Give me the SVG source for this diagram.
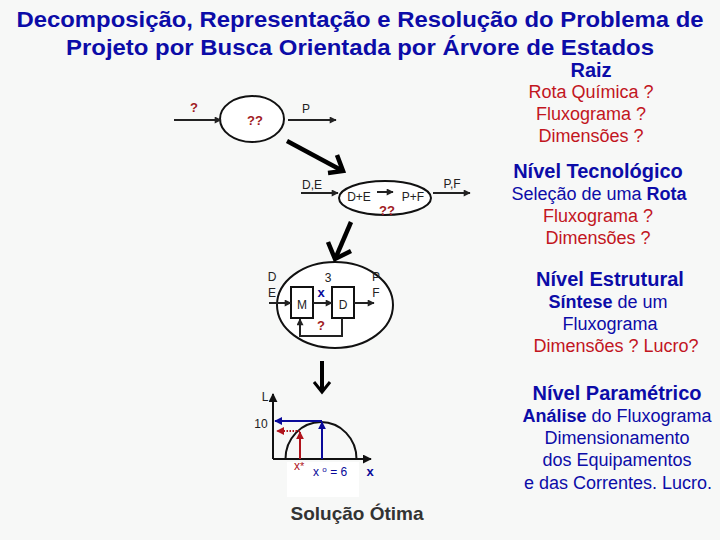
<svg xmlns="http://www.w3.org/2000/svg" width="720" height="540" viewBox="0 0 720 540">
<style>
text{font-family:"Liberation Sans",Arial,sans-serif}
.ttl{font-size:22px;font-weight:bold;fill:#0c0ca8}
.rb{font-size:20px;font-weight:bold;fill:#0c0ca8;text-anchor:middle}
.rr{font-size:18px;fill:#c2161e;text-anchor:middle}
.rbl{font-size:18px;fill:#0c0ca8;text-anchor:middle}
.sm{font-size:12px;fill:#222}
.q{font-size:13px;font-weight:bold;fill:#a01a22}
.ln{stroke:#222;stroke-width:2;fill:none}
.big{stroke:#000;stroke-width:4.5;fill:none;stroke-linecap:butt}
</style>
<defs>
<marker id="ah" viewBox="0 0 10 10" refX="9" refY="5" markerWidth="8" markerHeight="7" orient="auto" markerUnits="userSpaceOnUse"><path d="M0,0 L10,5 L0,10 z" fill="#222"/></marker>
<marker id="ahb" viewBox="0 0 10 10" refX="9" refY="5" markerWidth="8" markerHeight="8" orient="auto" markerUnits="userSpaceOnUse"><path d="M0,0 L10,5 L0,10 z" fill="#0a0a9a"/></marker>
<marker id="ahr" viewBox="0 0 10 10" refX="9" refY="5" markerWidth="8" markerHeight="8" orient="auto" markerUnits="userSpaceOnUse"><path d="M0,0 L10,5 L0,10 z" fill="#b0141c"/></marker>
<marker id="ahk" viewBox="0 0 10 10" refX="9" refY="5" markerWidth="9" markerHeight="9" orient="auto" markerUnits="userSpaceOnUse"><path d="M0,0 L10,5 L0,10 z" fill="#111"/></marker>
</defs>
<rect width="720" height="540" fill="#f7f8f7"/>
<rect x="287" y="462" width="72" height="35" fill="#ffffff"/>

<g id="title">
<text class="ttl" x="360" y="27" text-anchor="middle" textLength="687" lengthAdjust="spacingAndGlyphs">Decomposição, Representação e Resolução do Problema de</text>
<text class="ttl" x="360" y="55" text-anchor="middle" textLength="588" lengthAdjust="spacingAndGlyphs">Projeto por Busca Orientada por Árvore de Estados</text>
</g>

<g id="root-node">
<ellipse cx="252" cy="119" rx="32" ry="23" fill="#fff" stroke="#111" stroke-width="2"/>
<text class="q" x="255" y="125" text-anchor="middle">??</text>
<text class="q" x="194" y="112" text-anchor="middle">?</text>
<text class="sm" x="306" y="113" text-anchor="middle">P</text>
</g>

<g id="level1-node">
<ellipse cx="385" cy="198" rx="46" ry="17" fill="#fff" stroke="#111" stroke-width="2"/>
<text class="sm" x="359" y="201" text-anchor="middle">D+E</text>
<text class="sm" x="413" y="201" text-anchor="middle">P+F</text>
<text class="q" x="387" y="215" text-anchor="middle">??</text>
<text class="sm" x="312" y="189" text-anchor="middle">D,E</text>
<text class="sm" x="452" y="188" text-anchor="middle">P,F</text>
</g>

<g id="level2-node">
<ellipse cx="335" cy="305" rx="58" ry="43" fill="#fff" stroke="#111" stroke-width="2"/>
<rect x="291" y="287" width="22" height="31" fill="#fff" stroke="#111" stroke-width="2"/>
<rect x="332" y="287" width="22" height="31" fill="#fff" stroke="#111" stroke-width="2"/>
<text class="sm" x="302" y="309" text-anchor="middle">M</text>
<text class="sm" x="343" y="309" text-anchor="middle">D</text>
<text class="sm" x="328" y="282" text-anchor="middle">3</text>
<text class="sm" x="272" y="281" text-anchor="middle">D</text>
<text class="sm" x="272" y="297" text-anchor="middle">E</text>
<text class="sm" x="376" y="281" text-anchor="middle">P</text>
<text class="sm" x="376" y="297" text-anchor="middle">F</text>
<text x="321" y="297" text-anchor="middle" style="font-size:13px;font-weight:bold;fill:#0a0a9a">x</text>
<text class="q" x="321" y="330" text-anchor="middle">?</text>
</g>

<g id="graph">
<path d="M321,459 m-35.5,0 a35.5,37 0 0 1 71,0" fill="none" stroke="#111" stroke-width="2"/>
<text class="sm" x="265" y="401" text-anchor="middle">L</text>
<text class="sm" x="261" y="428" text-anchor="middle">10</text>
<text x="294" y="470" style="font-size:12px;fill:#b0141c">x<tspan font-size="11">*</tspan></text>
<text x="313" y="476" style="font-size:12px;fill:#0a0a9a">x <tspan dy="-4" font-size="8">o</tspan><tspan dy="4"> =  6</tspan></text>
<text x="370" y="476" text-anchor="middle" style="font-size:13px;font-weight:bold;fill:#0a0a9a">x</text>
</g>

<g id="solution">
<text x="357" y="520" text-anchor="middle" style="font-size:19px;font-weight:bold;fill:#333">Solução Ótima</text>
</g>

<g id="right-labels">
<text class="rb" x="591" y="77">Raiz</text>
<text class="rr" x="591" y="98">Rota Química ?</text>
<text class="rr" x="591" y="120">Fluxograma ?</text>
<text class="rr" x="591" y="142">Dimensões ?</text>
<text class="rb" x="598" y="178">Nível Tecnológico</text>
<text class="rbl" x="599" y="200">Seleção de uma <tspan font-weight="bold">Rota</tspan></text>
<text class="rr" x="598" y="222">Fluxograma ?</text>
<text class="rr" x="598" y="244">Dimensões ?</text>
<text class="rb" x="610" y="286">Nível Estrutural</text>
<text class="rbl" x="608" y="308"><tspan font-weight="bold">Síntese</tspan> de um</text>
<text class="rbl" x="610" y="330">Fluxograma</text>
<text class="rr" x="616" y="352">Dimensões ? Lucro?</text>
<text class="rb" x="617" y="400">Nível Paramétrico</text>
<text class="rbl" x="617" y="422"><tspan font-weight="bold">Análise</tspan> do Fluxograma</text>
<text class="rbl" x="617" y="444">Dimensionamento</text>
<text class="rbl" x="617" y="466">dos Equipamentos</text>
<text class="rbl" x="618" y="489">e das Correntes. Lucro.</text>
</g>

<g id="connectors">
<line class="ln" x1="174" y1="120" x2="221" y2="120" marker-end="url(#ah)"/>
<line class="ln" x1="288" y1="120" x2="336" y2="120" marker-end="url(#ah)"/>
<line class="big" x1="287" y1="141" x2="341" y2="170"/>
<polyline class="big" points="337,155 343,171 328,173"/>
<line class="ln" x1="301" y1="193" x2="338" y2="193" marker-end="url(#ah)"/>
<line class="ln" x1="377" y1="192" x2="393" y2="192" marker-end="url(#ah)"/>
<line class="ln" x1="433" y1="193" x2="470" y2="193" marker-end="url(#ah)"/>
<line class="big" x1="351" y1="222" x2="336" y2="257"/>
<polyline class="big" points="328,242 335,259 351,251"/>
<line class="ln" x1="269" y1="303" x2="291" y2="303" marker-end="url(#ah)"/>
<line class="ln" x1="313" y1="303" x2="332" y2="303" marker-end="url(#ah)"/>
<line class="ln" x1="354" y1="303" x2="374" y2="303" marker-end="url(#ah)"/>
<polyline class="ln" points="342,318 342,336 300,336 300,319" marker-end="url(#ah)"/>
<line x1="322" y1="361" x2="322" y2="391" stroke="#000" stroke-width="4"/>
<polyline points="314,382 322,392 330,382" fill="none" stroke="#000" stroke-width="3"/>
<line x1="273" y1="459" x2="273" y2="394" stroke="#111" stroke-width="2" marker-end="url(#ahk)"/>
<line x1="273" y1="459" x2="371" y2="459" stroke="#111" stroke-width="2" marker-end="url(#ahk)"/>
<line x1="322" y1="421" x2="275" y2="421" stroke="#0a0a9a" stroke-width="2" marker-end="url(#ahb)"/>
<line x1="322" y1="459" x2="322" y2="422" stroke="#0a0a9a" stroke-width="2" marker-end="url(#ahb)"/>
<line x1="300" y1="459" x2="300" y2="432" stroke="#b0141c" stroke-width="2" marker-end="url(#ahr)"/>
<line x1="300" y1="431" x2="277" y2="431" stroke="#b0141c" stroke-width="2" stroke-dasharray="1.5,1.5" marker-end="url(#ahr)"/>
</g>
</svg>
